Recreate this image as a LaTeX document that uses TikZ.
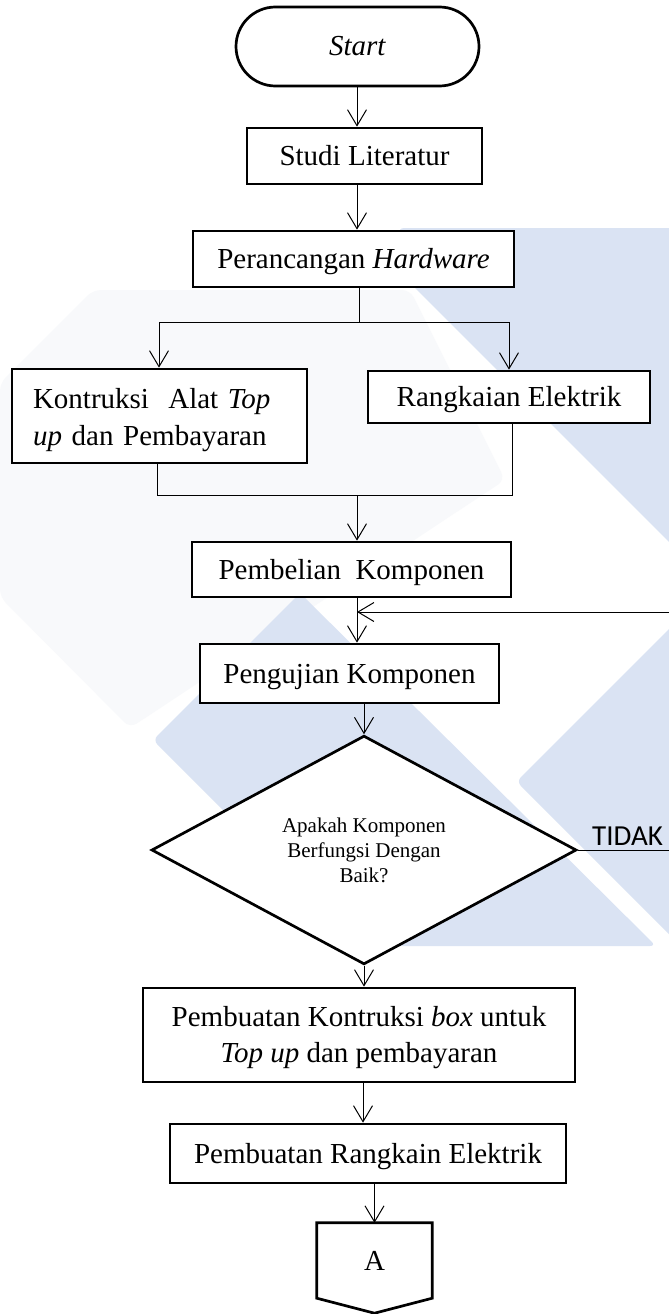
\documentclass[tikz,border=0pt]{standalone}
\usepackage{fontspec}
\setmainfont{Liberation Serif}
\newfontfamily\calib{Carlito}
\usetikzlibrary{arrows.meta,shapes.geometric,shapes.misc,calc}
\definecolor{wm}{HTML}{DAE3F3}
\definecolor{wmf}{HTML}{F8F9FB}
\begin{document}
\begin{tikzpicture}[x=1pt,y=-1pt,
  every node/.style={inner sep=0pt},
  boxs/.style={draw, line width=2.7pt, rectangle, fill=white, font=\fontsize{29}{36.5}\selectfont},
  oneline/.style={text height=19pt, text depth=0pt},
  conn/.style={line width=1pt},
  arr/.style={conn, -{Straight Barb[length=16pt,width=19pt]}},
  wmark/.style={fill=wm, draw=none, rounded corners=6pt},
  wmfaint/.style={fill=wmf, draw=none, rounded corners=8pt}]
\useasboundingbox (0,0) rectangle (669,1314);
\fill[white] (0,0) rectangle (669,1314);
% watermark
\fill[wmfaint] (0,383) -- (93,290) -- (410,290) -- (505,480) -- (130,728) -- (0,597) -- cycle;
\fill[wmark] (398,228) -- (675,228) -- (675,548) -- (410,283) -- cycle;
\fill[wmark] (153,740) -- (300,593) -- (656,946) -- (359,946) -- cycle;
\fill[wmark] (675,623) -- (516.5,781.5) -- (675,940) -- cycle;
% nodes
\node[boxs, rounded rectangle, minimum width=243pt, minimum height=79pt, oneline] (start) at (357.5,46.5) {\textit{Start}};
\node[boxs, oneline, minimum width=235pt, minimum height=56pt] (studi) at (364.5,156) {Studi Literatur};
\node[boxs, oneline, minimum width=321pt, minimum height=56pt] (per) at (353.5,259) {Perancangan \textit{Hardware}};
\node[boxs, minimum width=295pt, minimum height=94pt, text width=253pt, align=left, text height=28pt] (kon) at (159.5,416) {Kontruksi~ Alat \textit{Top}\\\textit{up} dan Pembayaran};
\node[boxs, oneline, minimum width=282pt, minimum height=52pt] (rang) at (509,397) {Rangkaian Elektrik};
\node[boxs, oneline, minimum width=319pt, minimum height=55pt] (beli) at (351.5,569.5) {Pembelian~ Komponen};
\node[boxs, oneline, minimum width=299pt, minimum height=59pt] (uji) at (349.5,673.5) {Pengujian Komponen};
\node[draw, line width=2.7pt, diamond, fill=white, minimum width=425pt, minimum height=196pt, align=center, font=\fontsize{21}{25}\selectfont] (dec) at (364,850) {Apakah Komponen\\Berfungsi Dengan\\Baik?};
\node[boxs, minimum width=432pt, minimum height=94pt, align=center, text height=62pt] (mk) at (359,1035) {Pembuatan Kontruksi \textit{box} untuk\\\textit{Top up} dan pembayaran};
\node[boxs, oneline, minimum width=396pt, minimum height=59pt] (mr) at (368,1153.5) {Pembuatan Rangkain Elektrik};
\node[oneline, minimum width=115pt, minimum height=75pt, font=\fontsize{29}{36}\selectfont] (cA) at (374.5,1260.5) {A};
\draw[line width=2.7pt] (cA.north west) -- (cA.north east) -- (cA.south east) -- ($(cA.south)+(0,15)$) -- (cA.south west) -- cycle;
\node[anchor=base west, font=\calib\fontsize{29}{34}\selectfont] (tidak) at (592,845) {TIDAK};
% coordinates
\coordinate (cx) at (357,0);
\coordinate (cx2) at (363,0);
\coordinate (jt) at (359,322);
\coordinate (jl) at (159,322);
\coordinate (jr) at (509,322);
\coordinate (ml) at (157,495);
\coordinate (mr2) at (512,495);
\coordinate (mm) at (357,495);
\coordinate (fb1) at (671,850);
\coordinate (fb2) at (671,612);
\coordinate (fb3) at (357,612);
% connectors
\draw[arr] (start.south -| cx) -- (studi.north -| cx);
\draw[arr] (studi.south -| cx) -- (per.north -| cx);
\draw[conn] (per.south -| jt) -- (jt);
\draw[conn] (jl) -- (jr);
\draw[arr] (jl) -- (kon.north -| jl);
\draw[arr] (jr) -- (rang.north -| jr);
\draw[conn] (kon.south -| ml) -- (ml) -- (mr2) -- (rang.south -| mr2);
\draw[arr] (mm) -- (beli.north -| mm);
\draw[arr] (beli.south -| cx) -- (uji.north -| cx);
\draw[arr] (dec.east) -- (fb1) -- (fb2) -- (fb3);
\draw[arr] (uji.south -| dec.north) -- (dec.north);
\draw[arr] (dec.south) -- (mk.north -| dec.south);
\draw[arr] (mk.south -| cx2) -- (mr.north -| cx2);
\draw[arr] (mr.south -| cA.north) -- (cA.north);
\end{tikzpicture}
\end{document}
